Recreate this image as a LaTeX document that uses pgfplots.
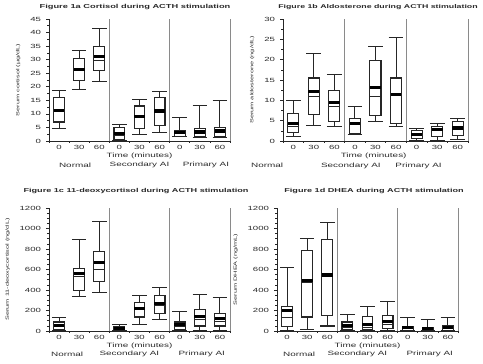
\documentclass[border=0pt]{standalone}
\usepackage{pgfplots}
\pgfplotsset{compat=1.18}
\usepackage{fontspec}
\setmainfont{Liberation Sans}[FakeStretch=1.6]
\definecolor{txt}{HTML}{2A2A2A}
\definecolor{ln}{HTML}{262626}
\definecolor{sep}{HTML}{8A8A8A}
% box: #1 position, #2 lower whisker, #3 lower quartile, #4 median, #5 upper quartile, #6 upper whisker
\newcommand{\bx}[6]{%
\addplot[ln, line width=1.1pt, fill=white, x filter/.expression={x+#1}] coordinates {(-0.27,#3) (0.27,#3) (0.27,#5) (-0.27,#5) (-0.27,#3)} --cycle;
\addplot[ln, line width=0.6pt, x filter/.expression={x+#1}] coordinates {(-0.27,#4) (0.27,#4)};
\addplot[ln, line width=1.1pt, x filter/.expression={x+#1}] coordinates {(0,#5) (0,#6)};
\addplot[ln, line width=1.1pt, x filter/.expression={x+#1}] coordinates {(0,#3) (0,#2)};
\addplot[ln, line width=1.1pt, x filter/.expression={x+#1}] coordinates {(-0.36,#6) (0.36,#6)};
\addplot[ln, line width=1.1pt, x filter/.expression={x+#1}] coordinates {(-0.36,#2) (0.36,#2)};
}
\newcommand{\lab}[3]{\node[font=\fontsize{6.2}{7}\selectfont, text=txt] at (rel axis cs:#1,#2) {#3};}
\pgfplotsset{
  panel/.style={
    scale only axis, anchor=north west,
    axis x line*=bottom, axis y line*=left,
    xmin=0.5, xmax=9.5, ymin=0,
    tick align=outside,
    xtick={1,2,3,4,5,6,7,8,9},
    xticklabels={0,30,60,0,30,60,0,30,60},
    minor xtick={0.5,1.5,2.5,3.5,4.5,5.5,6.5,7.5,8.5,9.5},
    every major x tick/.style={draw=none},
    major tick length=3pt, minor tick length=2pt,
    axis line style={ln, line width=0.8pt},
    every tick/.style={ln, line width=0.6pt},
    tick label style={font=\fontsize{6}{7}\selectfont, text=txt},
    /pgf/number format/assume math mode=true,
    /pgf/number format/1000 sep={},
    x tick label style={yshift=2.5pt},
    y tick label style={xshift=-1.5pt},
    ylabel style={font=\fontsize{4.6}{5}\selectfont, text=txt, yshift=3pt},
    clip=false,
  },
  meanbar/.style={only marks, mark=-, mark size=5.4pt, mark options={line width=3.2pt, draw=black}},
}
\begin{document}
\begin{tikzpicture}
\useasboundingbox (0pt,0pt) rectangle (483pt,-364pt);
% ---------- Panel a ----------
\begin{axis}[panel, at={(49pt,-19pt)}, width=181pt, height=122pt, ymax=45,
  ytick={0,5,10,15,20,25,30,35,40,45}, minor y tick num=1,
  ylabel={Serum cortisol (µg/dL)}]
\bx{1}{4.6}{7.0}{11.0}{15.9}{18.5}
\bx{2}{19.0}{22.4}{26.0}{30.5}{33.5}
\bx{3}{21.8}{25.9}{29.8}{35.0}{41.5}
\bx{4}{0.0}{0.5}{2.1}{4.9}{6.2}
\bx{5}{2.3}{4.6}{8.7}{12.9}{15.4}
\bx{6}{3.1}{5.8}{10.7}{16.0}{18.1}
\bx{7}{1.5}{1.7}{2.7}{3.7}{8.6}
\bx{8}{1.2}{1.5}{2.9}{4.6}{13.2}
\bx{9}{1.2}{1.5}{3.2}{4.9}{15.0}
\addplot[meanbar] coordinates {(1,11.3) (2,26.4) (3,31.1) (4,2.7) (5,8.9) (6,11.1) (7,3.0) (8,3.3) (9,3.7)};
\addplot[sep, line width=0.8pt] coordinates {(3.5,0) (3.5,45)};
\addplot[sep, line width=0.8pt] coordinates {(6.5,0) (6.5,45)};
\addplot[sep, line width=0.8pt] coordinates {(9.5,0) (9.5,45)};
\lab{0.5}{-0.12}{Time (minutes)}
\lab{0.144}{-0.2}{Normal}
\lab{0.5}{-0.2}{Secondary AI}
\lab{0.867}{-0.2}{Primary AI}
\end{axis}
\node[font=\bfseries\fontsize{5.8}{7}\selectfont, text=txt] at (135pt,-7pt) {Figure 1a Cortisol during ACTH stimulation};
% ---------- Panel b ----------
\begin{axis}[panel, at={(283pt,-19pt)}, width=185pt, height=122pt, ymax=30,
  ytick={0,5,10,15,20,25,30}, minor y tick num=1,
  ylabel={Serum aldosterone (ng/dL)}]
\bx{1}{1.2}{2.0}{3.6}{6.7}{10.0}
\bx{2}{3.9}{6.6}{11.0}{15.5}{21.5}
\bx{3}{3.6}{4.9}{8.5}{12.5}{16.4}
\bx{4}{1.6}{1.8}{4.0}{5.5}{8.5}
\bx{5}{4.9}{6.3}{11.0}{19.9}{23.3}
\bx{6}{3.5}{4.4}{11.8}{15.5}{25.5}
\bx{7}{0.2}{0.6}{1.5}{2.5}{3.0}
\bx{8}{0.2}{1.2}{2.6}{3.6}{4.3}
\bx{9}{0.3}{1.4}{3.0}{4.7}{5.5}
\addplot[meanbar] coordinates {(1,4.4) (2,12.1) (3,9.5) (4,4.3) (5,13.1) (6,11.5) (7,1.6) (8,2.8) (9,3.2)};
\addplot[sep, line width=0.8pt] coordinates {(3.5,0) (3.5,30)};
\addplot[sep, line width=0.8pt] coordinates {(6.5,0) (6.5,30)};
\addplot[sep, line width=0.8pt] coordinates {(9.5,0) (9.5,30)};
\lab{0.49}{-0.12}{Time (minutes)}
\lab{-0.086}{-0.2}{Normal}
\lab{0.367}{-0.2}{Secondary AI}
\lab{0.733}{-0.2}{Primary AI}
\end{axis}
\node[font=\bfseries\fontsize{5.5}{7}\selectfont, text=txt] at (378pt,-7pt) {Figure 1b Aldosterone during ACTH stimulation};
% ---------- Panel c ----------
\begin{axis}[panel, at={(49pt,-208pt)}, width=181pt, height=123pt, ymax=1200,
  ytick={0,200,400,600,800,1000,1200}, minor y tick num=3,
  ylabel={Serum 11-deoxycortisol (ng/dL)}]
\bx{1}{7}{16}{46}{88}{128}
\bx{2}{333}{392}{530}{611}{889}
\bx{3}{376}{481}{602}{775}{1069}
\bx{4}{3}{7}{18}{39}{65}
\bx{5}{65}{137}{210}{275}{343}
\bx{6}{111}{170}{255}{350}{422}
\bx{7}{3}{16}{46}{88}{193}
\bx{8}{7}{49}{111}{209}{356}
\bx{9}{7}{49}{98}{170}{327}
\addplot[meanbar] coordinates {(1,56) (2,562) (3,667) (4,23) (5,219) (6,268) (7,65) (8,144) (9,121)};
\addplot[sep, line width=0.8pt] coordinates {(3.5,0) (3.5,1200)};
\addplot[sep, line width=0.8pt] coordinates {(6.5,0) (6.5,1200)};
\addplot[sep, line width=0.8pt] coordinates {(9.5,0) (9.5,1200)};
\lab{0.5}{-0.119}{Time (minutes)}
\lab{0.1}{-0.19}{Normal}
\lab{0.444}{-0.19}{Secondary AI}
\lab{0.844}{-0.19}{Primary AI}
\end{axis}
\node[font=\bfseries\fontsize{5.7}{7}\selectfont, text=txt] at (136pt,-191pt) {Figure 1c 11-deoxycortisol during ACTH stimulation};
% ---------- Panel d ----------
\begin{axis}[panel, at={(277pt,-208pt)}, width=181pt, height=123pt, ymax=1200,
  ytick={0,200,400,600,800,1000,1200}, minor y tick num=3,
  ylabel={Serum DHEA (ng/mL)}]
\bx{1}{7}{46}{137}{242}{621}
\bx{2}{13}{137}{480}{785}{903}
\bx{3}{49}{154}{530}{896}{1060}
\bx{4}{3}{13}{39}{88}{160}
\bx{5}{3}{13}{39}{144}{242}
\bx{6}{5}{23}{65}{154}{284}
\bx{7}{2}{7}{25}{46}{131}
\bx{8}{2}{5}{15}{33}{111}
\bx{9}{2}{8}{25}{49}{131}
\addplot[meanbar] coordinates {(1,203) (2,490) (3,546) (4,56) (5,65) (6,95) (7,33) (8,23) (9,33)};
\addplot[sep, line width=0.8pt] coordinates {(3.5,0) (3.5,1200)};
\addplot[sep, line width=0.8pt] coordinates {(6.5,0) (6.5,1200)};
\addplot[sep, line width=0.8pt] coordinates {(9.5,0) (9.5,1200)};
\lab{0.5}{-0.119}{Time (minutes)}
\lab{0.122}{-0.19}{Normal}
\lab{0.444}{-0.19}{Secondary AI}
\lab{0.844}{-0.19}{Primary AI}
\end{axis}
\node[font=\bfseries\fontsize{5.7}{7}\selectfont, text=txt] at (374pt,-191pt) {Figure 1d DHEA during ACTH stimulation};
\end{tikzpicture}
\end{document}
